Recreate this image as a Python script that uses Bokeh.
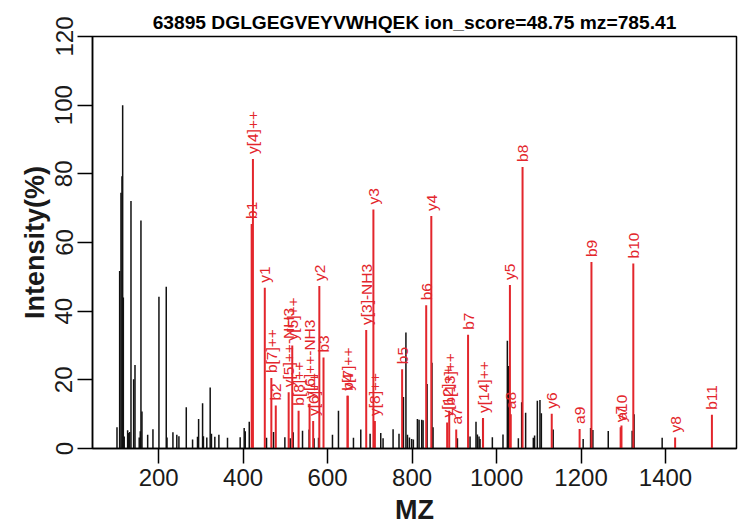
import math
from bokeh.plotting import figure
from bokeh.models import FixedTicker, Range1d, ColumnDataSource
from bokeh.core.properties import value
from bokeh.embed import file_html
from bokeh.resources import INLINE

title_text = "63895 DGLGEGVEYVWHQEK ion_score=48.75 mz=785.41"
x_ticks = [200, 400, 600, 800, 1000, 1200, 1400]
y_ticks = [0, 20, 40, 60, 80, 100, 120]

# unassigned peaks (black)
black_mz = [101.4, 107.7, 110.8, 113.2, 114.8, 116.4, 118.5, 126.6, 128.5, 131.5,
            134.5, 140.8, 144.0, 154.0, 156.5, 158.1, 160.5, 174.0, 186.5, 200.7,
            218.0, 219.8, 233.8, 243.0, 248.0, 265.4, 280.3, 292.0, 294.6, 304.0,
            306.0, 314.0, 322.0, 325.0, 333.0, 342.6, 363.0, 393.0, 402.5, 405.0,
            414.5, 455.4, 472.0, 498.8, 511.4, 518.5, 540.6, 556.3, 568.0, 578.5,
            611.5, 625.7, 661.2, 678.5, 700.6, 725.8, 731.3, 755.0, 769.0, 779.5,
            785.4, 789.0, 793.7, 799.0, 803.0, 812.6, 816.5, 822.8, 826.0, 835.5,
            847.0, 849.6, 907.3, 937.2, 951.3, 954.6, 958.5, 960.8, 967.2, 990.0,
            1015.2, 1025.5, 1028.5, 1051.6, 1059.4, 1068.8, 1087.0, 1090.0, 1096.5, 1102.7,
            1106.0, 1134.0, 1205.0, 1222.6, 1228.0, 1264.4, 1321.0, 1325.5, 1392.0]
black_int = [6.2, 51.7, 74.5, 79.3, 100.0, 44.0, 3.5, 5.3, 4.5, 4.8,
             72.1, 20.2, 24.3, 3.2, 5.0, 66.4, 10.8, 4.0, 5.6, 44.2,
             47.1, 3.2, 4.7, 4.0, 3.6, 12.0, 2.6, 3.4, 8.6, 13.2,
             3.6, 3.2, 17.8, 4.3, 3.4, 4.0, 3.1, 3.3, 6.0, 5.0,
             7.8, 3.1, 4.8, 3.3, 3.0, 4.7, 5.2, 5.5, 3.0, 3.1,
             4.0, 11.0, 3.1, 5.5, 4.3, 4.5, 3.0, 5.6, 4.3, 15.0,
             33.8, 4.0, 3.2, 2.8, 2.6, 8.6, 8.4, 8.4, 8.2, 18.8,
             25.0, 6.2, 3.0, 3.5, 7.8, 4.1, 3.5, 2.8, 8.8, 3.3,
             4.1, 31.4, 24.0, 3.0, 13.5, 10.4, 3.1, 3.8, 13.9, 14.1,
             10.3, 5.5, 2.8, 6.0, 5.4, 5.1, 5.2, 10.0, 3.1]

# assigned fragment ions (red)
ion_labels = ["b1", "y[4]++", "y1", "b[7]++", "b2", "y[5]++-NH3", "y[5]++", "b[8]++",
              "y[6]++-NH3", "y[6]++", "y2", "b3", "b4", "y[7]++", "y[3]-NH3", "y3",
              "y[8]++", "b5", "b6", "y4", "y[12]++", "b[13]++", "a7", "b7",
              "y[14]++", "y5", "a8", "b8", "y6", "a9", "b9", "y7", "a10", "b10",
              "y8", "b11"]
ion_mz = [420.2, 423.2, 451.3, 466.8, 477.3, 507.8, 516.3, 531.3,
          557.3, 565.8, 580.4, 590.3, 647.4, 647.4, 691.4, 708.4,
          711.9, 776.4, 833.4, 845.5, 883.0, 887.9, 904.5, 932.5,
          968.0, 1031.6, 1033.6, 1061.5, 1130.6, 1196.6, 1224.6, 1293.7, 1295.7, 1323.7,
          1422.7, 1509.8]
ion_int = [65.4, 84.3, 46.8, 20.5, 12.5, 16.4, 30.0, 11.0,
           13.0, 8.0, 47.3, 26.5, 15.4, 15.4, 34.5, 69.6,
           8.0, 23.1, 41.7, 67.7, 7.6, 11.0, 5.5, 33.1,
           8.9, 47.6, 10.0, 82.0, 10.1, 5.7, 54.3, 6.2, 6.7, 53.9,
           3.2, 9.8]

FONT = "Liberation Sans"
RED = "#e3262c"

p = figure(width=745, height=527,
           x_range=Range1d(43.4, 1568), y_range=Range1d(0, 120),
           output_backend="svg", toolbar_location=None,
           min_border_left=92, min_border_right=9,
           min_border_top=36, min_border_bottom=78)

p.title.text = title_text
p.title.align = "center"
p.title.text_font = FONT
p.title.text_font_size = "19.2px"
p.title.text_font_style = "bold"
p.title.text_color = "black"
p.title.standoff = 8

p.xgrid.grid_line_color = None
p.ygrid.grid_line_color = None
p.outline_line_color = "black"
p.outline_line_width = 1.5
p.background_fill_color = "white"
p.border_fill_color = "white"

for ax, ticks, lab in ((p.xaxis[0], x_ticks, "MZ"), (p.yaxis[0], y_ticks, "Intensity(%)")):
    ax.ticker = FixedTicker(ticks=ticks)
    ax.axis_label = lab
    ax.axis_label_text_font = FONT
    ax.axis_label_text_font_size = "27px"
    ax.axis_label_text_font_style = "bold"
    ax.axis_label_text_color = "#1a1a1a"
    ax.major_label_text_font = FONT
    ax.major_label_text_font_size = "24px"
    ax.major_label_text_color = "#1a1a1a"
    ax.major_tick_out = 15
    ax.major_tick_in = 0
    ax.minor_tick_out = 0
    ax.minor_tick_in = 0
    ax.major_tick_line_color = "black"
    ax.major_tick_line_width = 1.5
    ax.axis_line_color = "black"
    ax.axis_line_width = 1.5

p.xaxis[0].major_label_standoff = 5
p.xaxis[0].axis_label_standoff = 6
p.yaxis[0].major_label_standoff = 5
p.yaxis[0].axis_label_standoff = 3
p.yaxis[0].major_label_orientation = "vertical"

bsrc = ColumnDataSource(dict(x=black_mz, y=black_int, y0=[0] * len(black_mz)))
p.segment(x0="x", y0="y0", x1="x", y1="y", source=bsrc, line_color="#111111", line_width=1.5)

rsrc = ColumnDataSource(dict(x=ion_mz, y=ion_int, y0=[0] * len(ion_mz), t=ion_labels))
p.segment(x0="x", y0="y0", x1="x", y1="y", source=rsrc, line_color=RED, line_width=2)
p.text(x="x", y="y", text="t", source=rsrc, angle=math.pi / 2,
       text_align="left", text_baseline="middle", y_offset=-5,
       text_color=RED, text_font=value(FONT), text_font_size="15.5px")

open("out.html", "w").write(file_html(p, INLINE))
